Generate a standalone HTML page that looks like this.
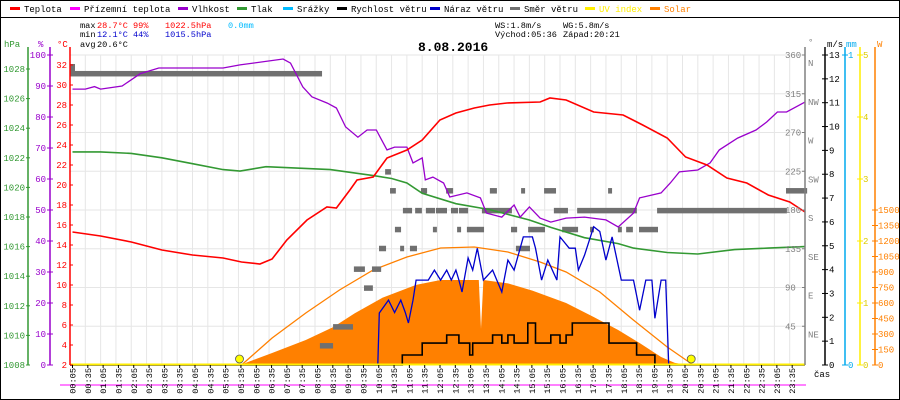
<!DOCTYPE html>
<html><head><meta charset="utf-8"><style>
html,body{margin:0;padding:0;background:#fff;}
svg{display:block;font-family:"Liberation Mono",monospace;}
</style></head><body>
<svg id="chart" width="900" height="400" viewBox="0 0 900 400" xmlns="http://www.w3.org/2000/svg">
<rect x="0.5" y="0.5" width="899" height="399" fill="#fff" stroke="#000"/>
<line x1="0" y1="17.5" x2="900" y2="17.5" stroke="#000"/>
<g id="legend" font-size="9"></g>
<g font-size="8.6">
<text x="80" y="28" fill="#000">max</text><text x="97" y="28" fill="#f00">28.7°C</text><text x="133" y="28" fill="#f00">99%</text><text x="165" y="28" fill="#f00">1022.5hPa</text><text x="228" y="28" fill="#0bf">0.0mm</text>
<text x="80" y="37" fill="#000">min</text><text x="97" y="37" fill="#00c">12.1°C</text><text x="133" y="37" fill="#00c">44%</text><text x="165" y="37" fill="#00c">1015.5hPa</text>
<text x="80" y="47" fill="#000">avg</text><text x="97" y="47" fill="#000">20.6°C</text>
<text x="495" y="28" fill="#000">WS:1.8m/s</text><text x="563" y="28" fill="#000">WG:5.8m/s</text>
<text x="495" y="37" fill="#000">Východ:05:36</text><text x="563" y="37" fill="#000">Západ:20:21</text>
</g>
<text x="418" y="51" font-size="13" font-weight="bold" fill="#000">8.08.2016</text>
<g id="grid"></g>
<g id="marks"></g>
<g id="axes" font-size="9"></g>
</svg>
<script>
const tempH=[0.08,1,2,3,4,5,5.6,6.2,6.6,7.08,7.74,8.39,8.7,9.14,9.37,9.9,10.35,11,11.5,12.08,12.6,13.2,13.7,14.27,15.35,15.67,16.2,17.1,18.06,18.7,19.5,20.1,20.8,21.45,22.1,22.8,23.5,24];
const tempV=[15.3,14.9,14.3,13.5,13,12.7,12.3,12.1,12.6,14.5,16.5,17.8,17.7,19.5,20.5,20.8,22.7,23.5,24.5,26.5,27.2,27.7,28,28.2,28.3,28.7,28.5,27.3,27,26,24.7,22.8,22,20.7,20.2,19,18.3,17.3];
const humH=[0.08,0.5,0.8,1,1.7,2.3,2.9,4,5,5.55,6.96,7.2,7.6,7.9,8.4,8.7,9.0,9.4,9.7,10.0,10.35,10.6,11.0,11.2,11.5,11.6,11.85,12.2,12.4,12.96,13.4,13.6,14.1,14.5,14.7,15.0,15.35,15.7,16.2,16.8,17.5,17.9,18.4,18.6,19.3,19.6,19.9,20.5,20.9,21.2,21.8,22.4,22.75,23.1,23.4,24];
const humV=[89,89,89.8,89,90,94,95.8,95.8,95.8,96.8,98.7,97.4,89.7,86.5,84.5,82.9,76.8,73.5,75.8,75.8,69.4,70.3,70.3,65.2,66.8,59.7,60.6,58.7,54.2,55.5,53.9,49,47.7,51.6,47.7,51,47.4,46.1,47.4,47.7,46.8,44.5,49,53.9,55.5,58.7,62.3,62.9,65.2,69.4,73.2,75.8,78.4,81.6,81.6,84.8];
const presH=[0.08,1,2,3,4,5,5.55,6.4,8.5,9.9,10.5,11,11.5,12.6,13.7,15.0,15.7,16.8,17.9,18.4,19.5,20.5,21.7,22.8,24];
const presV=[1022.4,1022.4,1022.3,1022.0,1021.6,1021.2,1021.1,1021.4,1021.2,1020.8,1020.6,1020.3,1019.6,1018.9,1018.5,1017.8,1017.3,1016.6,1016.2,1015.9,1015.6,1015.5,1015.8,1015.9,1016.0];
const windH=[0,10.85,11.5,12.3,12.7,13.05,13.15,13.8,14.1,14.3,14.5,14.95,15.2,15.7,16.0,16.2,16.4,17.6,18.5,19.1];
const windV=[0,0.42,0.92,1.26,0.92,0.42,0.92,1.26,0.92,1.26,0.92,1.76,0.92,1.26,0.92,1.26,1.76,0.92,0.42,0];
const gustH=[0,10.05,10.1,10.4,10.6,10.8,10.95,11.05,11.2,11.3,11.7,11.9,12.1,12.3,12.45,12.6,12.7,12.8,13.0,13.15,13.3,13.5,13.8,14.1,14.3,14.5,14.8,15.1,15.2,15.4,15.6,15.9,16.0,16.3,16.5,16.6,16.8,17.1,17.3,17.5,17.7,18.0,18.4,18.6,18.8,19.0,19.1,19.3,19.45,19.55];
const gustV=[0,0,2.18,2.72,2.2,2.72,2.2,1.76,2.72,3.56,3.56,3.98,3.56,3.98,3.56,3.98,3.56,3.06,4.49,3.98,4.9,3.56,3.98,3.06,4.4,3.98,5.37,5.37,4.9,3.56,4.4,3.56,5.37,4.9,4.9,3.98,4.6,5.8,5.6,4.4,5.37,3.56,3.56,2.3,3.56,3.56,1.96,3.56,3.56,0];
const solarH=[5.55,6.6,7.7,8.6,9.3,10.2,11.3,12.1,13.2,13.35,13.42,13.5,14.3,15.1,16.2,17.1,17.9,18.6,19.3,19.75,20.2];
const solarV=[0,116,242,368,500,650,775,823,823,823,350,823,790,720,600,465,339,213,77,20,0];
const csH=[5.6,6.6,7.7,8.8,9.9,11,12.1,13.2,14.3,15.35,16.2,17.3,18.4,19.5,20.35];
const csV=[0,261,503,726,920,1045,1132,1142,1094,997,900,706,435,174,0];
const dirStart=[0,8.59,8.16,9.6,9.27,9.86,10.09,10.78,11.1,14.56,10.61,11.85,12.64,12.96,14.4,14.96,16.07,16.98,17.89,18.16,18.58,10.87,11.27,11.62,11.95,12.44,12.7,13.45,15.8,16.56,19.17,10.45,11.46,12.28,13.71,14.73,15.48,17.57,23.38,10.29];
const dirEnd=[8.23,9.24,8.59,9.89,9.63,10.16,10.32,10.91,11.33,15.02,10.81,11.98,12.77,13.52,14.6,15.51,16.59,17.11,18.02,18.38,19.2,11.17,11.49,11.92,12.31,12.67,13.0,14.43,16.26,18.51,23.41,10.64,11.66,12.51,13.94,14.86,15.87,17.7,24.07,10.48];
const dirDeg=[338,44,22,89,111,111,135,135,135,135,157,157,157,157,157,157,157,157,157,157,157,179,179,179,179,179,179,179,179,179,179,202,202,202,202,202,202,202,202,224];
const sunEvents=[5.6,20.35];
const xTickLabels=[];for(let i=0;i<48;i++){const m=5+i*30;xTickLabels.push(String(Math.floor(m/60)).padStart(2,'0')+':'+String(m%60).padStart(2,'0'));}
const hpaTicks=[1008,1010,1012,1014,1016,1018,1020,1022,1024,1026,1028];
const pctTicks=[0,10,20,30,40,50,60,70,80,90,100];
const degTicks=[2,4,6,8,10,12,14,16,18,20,22,24,26,28,30,32];
const dirTicks=[45,90,135,180,225,270,315,360];
const dirNames=['NE','E','SE','S','SW','W','NW','N'];
const msTicks=[0,1,2,3,4,5,6,7,8,9,10,11,12,13];
const uvTicks=[0,1,2,3,4,5];
const wTicks=[0,150,300,450,600,750,900,1050,1200,1350,1500];

const NS='http://www.w3.org/2000/svg';
const L=70,R=805,B=365,T=55;
const X=h=>L+h*(R-L)/24;
const yT=v=>B-(v-2)*10, yH=v=>B-v*3.1, yP=v=>B-(v-1008)*14.8, yW=v=>B-v*23.846, yS=v=>B-v*0.10333, yD=v=>B-v*0.8611, yUV=v=>B-v*62;
function el(t,a,p){const e=document.createElementNS(NS,t);for(const k in a)e.setAttribute(k,a[k]);(p||document.getElementById('marks')).appendChild(e);return e;}
function txt(p,x,y,s,fill,anchor){const e=el('text',{x:x,y:y,fill:fill,'text-anchor':anchor||'start'},p);e.textContent=s;return e;}
const grid=document.getElementById('grid');
for(let i=0;i<=48;i++){const x=L+i*(R-L)/48;const g=el('line',{x1:x,y1:T,x2:x,y2:B,stroke:'#e6e6e6'},grid);}
for(let i=0;i<8;i++){const y=T+i*(B-T)/8;const g=el('line',{x1:L,y1:y,x2:R,y2:y,stroke:'#e6e6e6'},grid);}
const pts=(H,V,f)=>H.map((h,i)=>X(h).toFixed(1)+','+f(V[i]).toFixed(1)).join(' ');
let sa=el('polygon',{points:pts(solarH,solarV,yS)+' '+X(solarH[solarH.length-1])+','+B+' '+X(solarH[0])+','+B,fill:'#ff8000'});


let cs=el('polyline',{points:pts(csH,csV,yS),fill:'none',stroke:'#ff8000','stroke-width':1.3});


for(let i=0;i<dirDeg.length;i++){const r=el('rect',{x:X(dirStart[i]),y:yD(dirDeg[i])-3,width:Math.max(2,X(dirEnd[i])-X(dirStart[i])),height:5.5,fill:'#707070'});

}
let sq=el('rect',{x:70,y:64,width:5,height:7,fill:'#707070'});


let pr=el('polyline',{points:pts(presH,presV,yP),fill:'none',stroke:'#339933','stroke-width':1.6});


let hu=el('polyline',{points:pts(humH,humV,yH),fill:'none',stroke:'#9900cc','stroke-width':1.3});


let te=el('polyline',{points:pts(tempH,tempV,yT),fill:'none',stroke:'#f00','stroke-width':1.6});


let gu=el('polyline',{points:pts(gustH,gustV,yW),fill:'none',stroke:'#0000cc','stroke-width':1.3});


let wp=[];for(let i=0;i<windH.length;i++){if(i>0)wp.push(X(windH[i]).toFixed(1)+','+yW(windV[i-1]).toFixed(1));wp.push(X(windH[i]).toFixed(1)+','+yW(windV[i]).toFixed(1));}wp.push(X(24)+','+yW(0));
let ws=el('polyline',{points:wp.join(' '),fill:'none',stroke:'#000','stroke-width':1.6});


let uv=el('line',{x1:L,y1:B-0.5,x2:R,y2:B-0.5,stroke:'#ffee00','stroke-width':2});


sunEvents.forEach(h=>{const c=el('circle',{cx:X(h)-2,cy:B-6,r:4,fill:'#ffff00',stroke:'#555','stroke-width':0.8});

});
const ax=document.getElementById('axes');
function vaxis(x,color,name){const l=el('line',{x1:x,y1:T-8,x2:x,y2:B,stroke:color,'stroke-width':1.5},ax);}
vaxis(28,'#339933','pressure-axis');vaxis(50,'#9900cc','humidity-axis');vaxis(70,'#f00','temperature-axis');
vaxis(805,'#808080','direction-axis');vaxis(825,'#000','wind-speed-axis');vaxis(845,'#00aaee','rain-axis');vaxis(860,'#ffee00','uv-axis');vaxis(875,'#ff8000','solar-axis');
hpaTicks.forEach(v=>{el('line',{x1:26,y1:yP(v),x2:30,y2:yP(v),stroke:'#339933'},ax);txt(ax,25,yP(v)+3,String(v),'#339933','end');});
pctTicks.forEach(v=>{el('line',{x1:47,y1:yH(v),x2:53,y2:yH(v),stroke:'#9900cc'},ax);txt(ax,46,yH(v)+3,String(v),'#9900cc','end');});
degTicks.forEach(v=>{el('line',{x1:70,y1:yT(v),x2:73,y2:yT(v),stroke:'#f00'},ax);txt(ax,67,yT(v)+3,String(v),'#f00','end');});
dirTicks.forEach((v,i)=>{el('line',{x1:802,y1:yD(v),x2:805,y2:yD(v),stroke:'#808080'},ax);txt(ax,785,yD(v)+3,String(v),'#808080','start');txt(ax,808,yD(v)+11,dirNames[i],'#808080','start');});
msTicks.forEach(v=>{el('line',{x1:822,y1:yW(v),x2:828,y2:yW(v),stroke:'#000'},ax);txt(ax,829,yW(v)+3,String(v),'#000','start');});
[0,1].forEach(v=>{const y=v?T:B;el('line',{x1:842,y1:y,x2:848,y2:y,stroke:'#00aaee'},ax);txt(ax,848,y+3,String(v),'#00aaee','start');});
uvTicks.forEach(v=>{el('line',{x1:857,y1:yUV(v),x2:863,y2:yUV(v),stroke:'#ffee00'},ax);txt(ax,863,yUV(v)+3,String(v),'#ddcc00','start');});
wTicks.forEach(v=>{el('line',{x1:872,y1:yS(v),x2:878,y2:yS(v),stroke:'#ff8000'},ax);txt(ax,878,yS(v)+3,String(v),'#ff8000','start');});
txt(ax,4,47,'hPa','#339933');txt(ax,38,47,'%','#9900cc');txt(ax,57,47,'°C','#f00');
txt(ax,808,45,'°','#808080');txt(ax,827,47,'m/s','#000');txt(ax,846,47,'mm','#00aaee');txt(ax,877,47,'W','#ff8000');
txt(ax,814,377,'čas','#000');
el('line',{x1:60,y1:385,x2:806,y2:385,stroke:'#ff00ff'},ax);
xTickLabels.forEach((s,i)=>{const x=L+2.5+i*(R-L)/48;el('line',{x1:x,y1:B,x2:x,y2:B+3,stroke:'#000'},ax);const t=txt(ax,0,0,s,'#000','end');t.setAttribute('transform','translate('+(x+3)+','+(B+3)+') rotate(-90)');t.setAttribute('font-size','8.6');

});
const lg=document.getElementById('legend');
const legNames=['Teplota','Přízemní teplota','Vlhkost','Tlak','Srážky','Rychlost větru','Náraz větru','Směr větru','UV index','Solar'];
const legColors=['#f00','#ff00ff','#9900cc','#339933','#00bbff','#000','#0000cc','#707070','#ffee00','#ff8000'];
const legX=[10,70,178,237,283,337,430,510,585,650];
legNames.forEach((n,i)=>{const g=el('g',{},lg);el('rect',{x:legX[i],y:7,width:10,height:3,fill:legColors[i]},g);txt(g,legX[i]+14,12,n,i==8?'#ffee00':(i==9?'#ff8000':'#000'));});
</script>
</body></html>
